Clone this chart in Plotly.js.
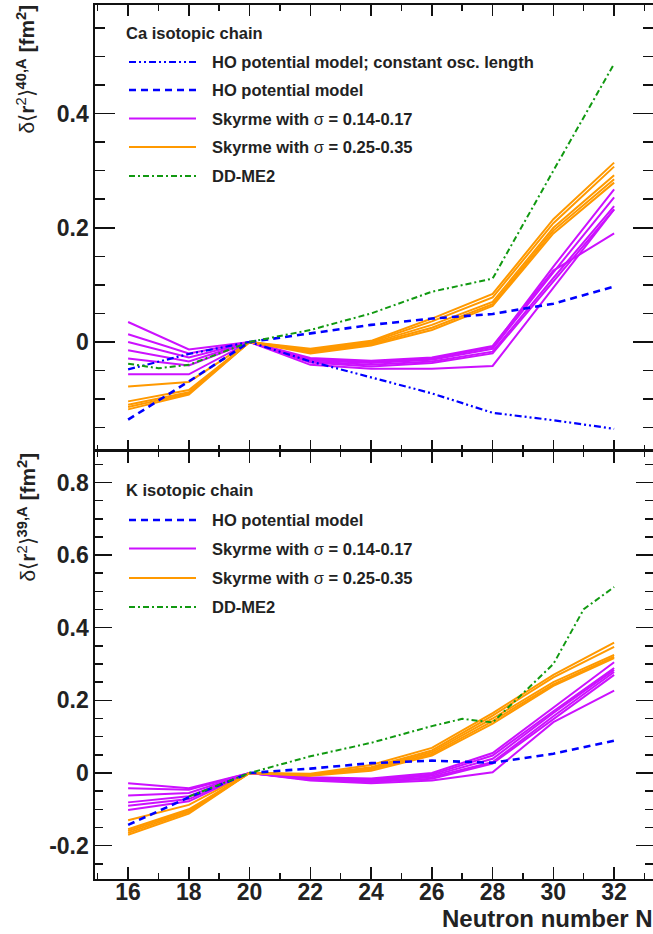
<!DOCTYPE html>
<html><head><meta charset="utf-8">
<script src="https://cdn.plot.ly/plotly-3.0.1.min.js"></script>
<style>html,body{margin:0;padding:0;background:#fff}</style>
</head><body><div id="chart" style="width:653px;height:934px"></div>
<script>
// ---------- data ----------
const N = [16,18,20,22,24,26,28,30,32];
const xTicks = [16,18,20,22,24,26,28,30,32];
const xTickText = ['16','18','20','22','24','26','28','30','32'];

// Ca isotopic chain (top panel)
const caHOconst = [-0.048,-0.021,0,-0.034,-0.062,-0.090,-0.124,-0.137,-0.152];
const caHO      = [-0.136,-0.069,0,0.015,0.030,0.041,0.049,0.067,0.097];
const caSkyLow1 = [0.035,-0.013,0,-0.028,-0.033,-0.027,-0.007,0.125,0.190];
const caSkyLow2 = [0.0135,-0.020,0,-0.030,-0.035,-0.029,-0.009,0.132,0.267];
const caSkyLow3 = [0.000,-0.027,0,-0.032,-0.037,-0.031,-0.012,0.122,0.253];
const caSkyLow4 = [-0.0146,-0.034,0,-0.034,-0.040,-0.034,-0.017,0.112,0.238];
const caSkyLow5 = [-0.029,-0.041,0,-0.036,-0.043,-0.037,-0.020,0.105,0.232];
const caSkyLow6 = [-0.0567,-0.0567,0,-0.040,-0.047,-0.047,-0.042,0.095,0.232];
const caSkyHigh1 = [-0.078,-0.070,0,-0.012,0.002,0.041,0.084,0.215,0.314];
const caSkyHigh2 = [-0.104,-0.084,0,-0.014,0.000,0.036,0.078,0.208,0.307];
const caSkyHigh3 = [-0.110,-0.088,0,-0.016,-0.002,0.030,0.070,0.200,0.292];
const caSkyHigh4 = [-0.114,-0.090,0,-0.018,-0.004,0.025,0.066,0.195,0.285];
const caSkyHigh5 = [-0.118,-0.092,0,-0.020,-0.006,0.021,0.063,0.190,0.279];
const caDDN  = [16,17,18,20,22,24,26,28,30,32];
const caDDME2 = [-0.038,-0.046,-0.040,0,0.021,0.050,0.088,0.111,0.300,0.487];

// K isotopic chain (bottom panel)
const kHO = [-0.143,-0.067,0,0.012,0.027,0.034,0.028,0.053,0.089];
const kSkyLow1 = [-0.028,-0.042,0,-0.012,-0.015,0.000,0.055,0.179,0.305];
const kSkyLow2 = [-0.042,-0.046,0,-0.014,-0.017,-0.004,0.048,0.170,0.289];
const kSkyLow3 = [-0.062,-0.055,0,-0.016,-0.019,-0.008,0.039,0.165,0.284];
const kSkyLow4 = [-0.081,-0.064,0,-0.018,-0.022,-0.012,0.030,0.156,0.278];
const kSkyLow5 = [-0.090,-0.072,0,-0.019,-0.025,-0.016,0.026,0.149,0.270];
const kSkyLow6 = [-0.102,-0.078,0,-0.021,-0.028,-0.021,0.002,0.140,0.227];
const kSkyHigh1 = [-0.130,-0.088,0,-0.002,0.022,0.069,0.165,0.270,0.359];
const kSkyHigh2 = [-0.155,-0.100,0,-0.004,0.016,0.062,0.158,0.263,0.347];
const kSkyHigh3 = [-0.160,-0.104,0,-0.005,0.013,0.057,0.150,0.250,0.325];
const kSkyHigh4 = [-0.165,-0.108,0,-0.006,0.010,0.052,0.143,0.244,0.320];
const kSkyHigh5 = [-0.170,-0.112,0,-0.008,0.006,0.048,0.136,0.240,0.316];
const kDDN   = [18,20,22,24,26,27,28,30,31,32];
const kDDME2 = [-0.065,0,0.046,0.083,0.129,0.149,0.139,0.300,0.451,0.512];

const caTickVals = [0,0.2,0.4];
const caTickText = ['0','0.2','0.4'];
const kTickVals = [-0.2,0,0.2,0.4,0.6,0.8];
const kTickText = ['-0.2','0','0.2','0.4','0.6','0.8'];

const caLegend = ['HO potential model; constant osc. length','HO potential model',
  'Skyrme with σ = 0.14-0.17','Skyrme with σ = 0.25-0.35','DD-ME2'];
const kLegend = ['HO potential model','Skyrme with σ = 0.14-0.17','Skyrme with σ = 0.25-0.35','DD-ME2'];

// ---------- styles ----------
const C_MAG = '#cc11ff', C_ORA = '#ff9900', C_BLUE = '#0000ff', C_GREEN = '#119911';
const DASH_HOC = '7px,3px,2px,3px,2px,3px';
const DASH_HO = '7px,5px';
const DASH_DD = '6px,3px,2px,3px';
const FONT = 'Liberation Sans, Arial, Helvetica, sans-serif';
const TXT = '#222222';

function tr(xs, ys, color, dash, width, top) {
  return {x: xs, y: ys, type: 'scatter', mode: 'lines', showlegend: false, hoverinfo: 'skip',
    line: {color: color, dash: dash, width: width},
    xaxis: top ? 'x2' : 'x', yaxis: top ? 'y2' : 'y'};
}
const traces = [];
[caSkyLow1,caSkyLow2,caSkyLow3,caSkyLow4,caSkyLow5,caSkyLow6].forEach(a => traces.push(tr(N,a,C_MAG,'solid',2,true)));
[caSkyHigh1,caSkyHigh2,caSkyHigh3,caSkyHigh4,caSkyHigh5].forEach(a => traces.push(tr(N,a,C_ORA,'solid',2,true)));
traces.push(tr(N,caHOconst,C_BLUE,DASH_HOC,2.2,true));
traces.push(tr(N,caHO,C_BLUE,DASH_HO,2.6,true));
traces.push(tr(caDDN,caDDME2,C_GREEN,DASH_DD,2,true));
[kSkyLow1,kSkyLow2,kSkyLow3,kSkyLow4,kSkyLow5,kSkyLow6].forEach(a => traces.push(tr(N,a,C_MAG,'solid',2,false)));
[kSkyHigh1,kSkyHigh2,kSkyHigh3,kSkyHigh4,kSkyHigh5].forEach(a => traces.push(tr(N,a,C_ORA,'solid',2,false)));
traces.push(tr(N,kHO,C_BLUE,DASH_HO,2.6,false));
traces.push(tr(kDDN,kDDME2,C_GREEN,DASH_DD,2,false));

// ---------- layout helpers ----------
const L = 95, R = 653, T = 5, B = 879;
const px = v => (v - L) / (R - L);
const py = v => (B - v) / (B - T);
const split = py(450.5);

const shapes = [], annotations = [];
function legendRow(yPix, color, dash, width, text) {
  shapes.push({type: 'line', xref: 'paper', yref: 'paper', x0: px(129), x1: px(196), y0: py(yPix), y1: py(yPix),
    line: {color: color, dash: dash, width: width}});
  annotations.push({xref: 'paper', yref: 'paper', x: px(210), y: py(yPix), xanchor: 'left', yanchor: 'middle',
    showarrow: false, text: '<b>' + text.replace('σ', '</b>σ<b>') + '</b>',
    font: {family: FONT, size: 16.5, color: TXT}});
}
function legendTitle(yPix, text) {
  annotations.push({xref: 'paper', yref: 'paper', x: px(124), y: py(yPix), xanchor: 'left', yanchor: 'middle',
    showarrow: false, text: '<b>' + text + '</b>', font: {family: FONT, size: 16.5, color: TXT}});
}
legendTitle(33, 'Ca isotopic chain');
const caStyles = [[C_BLUE,DASH_HOC,2.2],[C_BLUE,DASH_HO,2.6],[C_MAG,'solid',2],[C_ORA,'solid',2],[C_GREEN,DASH_DD,2]];
const caRows = [62,90,118.5,147,176];
caLegend.forEach((t,i) => legendRow(caRows[i], caStyles[i][0], caStyles[i][1], caStyles[i][2], t));
legendTitle(490, 'K isotopic chain');
const kStyles = [[C_BLUE,DASH_HO,2.6],[C_MAG,'solid',2],[C_ORA,'solid',2],[C_GREEN,DASH_DD,2]];
const kRows = [520,548.5,578,607];
kLegend.forEach((t,i) => legendRow(kRows[i], kStyles[i][0], kStyles[i][1], kStyles[i][2], t));

// y axis titles (rotated)
function yTitle(topPix, sup) {
  annotations.push({xref: 'paper', yref: 'paper', x: px(26), y: py(topPix), xanchor: 'center', yanchor: 'top',
    textangle: -90, showarrow: false,
    text: 'δ⟨<b>r</b><sup>2</sup>⟩<sup><b>' + sup + '</b></sup> <b>[fm<sup>2</sup>]</b>',
    font: {family: FONT, size: 21, color: TXT}});
}
yTitle(3, '40,A');
yTitle(451, '39,A');
// x axis title
annotations.push({xref: 'paper', yref: 'paper', x: px(655), y: py(918), xanchor: 'right', yanchor: 'middle',
  showarrow: false, text: '<b>Neutron number N</b>', font: {family: FONT, size: 24, color: TXT}});

const xBase = {range: [14.91, 33.28], tickmode: 'array', tickvals: xTicks, ticktext: xTickText,
  ticks: 'inside', tickwidth: 1.5, tickcolor: '#111', showline: true, linewidth: 1.6, linecolor: '#111',
  mirror: 'ticks', showgrid: false, zeroline: false, automargin: false, fixedrange: true,
  minor: {tickmode: 'linear', tick0: 15, dtick: 1, ticks: 'inside', ticklen: 6, tickwidth: 1.5, tickcolor: '#111', showgrid: false}};
const yBase = {ticks: 'inside', tickwidth: 1.5, tickcolor: '#111', showline: true, linewidth: 1.6, linecolor: '#111',
  mirror: 'ticks', showgrid: false, zeroline: false, automargin: false, fixedrange: true, tickmode: 'array',
  tickfont: {family: FONT, size: 23, color: TXT, weight: 'bold'}};

const layout = {
  width: 653, height: 934,
  margin: {l: L, r: 653 - R, t: T, b: 934 - B, pad: 0},
  paper_bgcolor: '#fff', plot_bgcolor: '#fff', showlegend: false,
  xaxis: Object.assign({}, xBase, {anchor: 'y', domain: [0,1], ticklen: 12, ticklabelstandoff: -8,
    tickfont: {family: FONT, size: 23, color: TXT, weight: 'bold'}}),
  xaxis2: Object.assign({}, xBase, {anchor: 'y2', domain: [0,1], ticklen: 11, showticklabels: false, matches: 'x'}),
  yaxis: Object.assign({}, yBase, {anchor: 'x', domain: [0, split], range: [-0.292, 0.888],
    tickvals: kTickVals, ticktext: kTickText, ticklen: 17,
    minor: {tickmode: 'linear', tick0: 0, dtick: 0.05, ticks: 'inside', ticklen: 8, tickwidth: 1.5, tickcolor: '#111', showgrid: false}}),
  yaxis2: Object.assign({}, yBase, {anchor: 'x2', domain: [split, 1], range: [-0.19, 0.59],
    tickvals: caTickVals, ticktext: caTickText, ticklen: 20,
    minor: {tickmode: 'linear', tick0: 0, dtick: 0.05, ticks: 'inside', ticklen: 10, tickwidth: 1.5, tickcolor: '#111', showgrid: false}}),
  shapes: shapes, annotations: annotations
};
Plotly.newPlot('chart', traces, layout, {staticPlot: true, displayModeBar: false});
</script></body></html>
